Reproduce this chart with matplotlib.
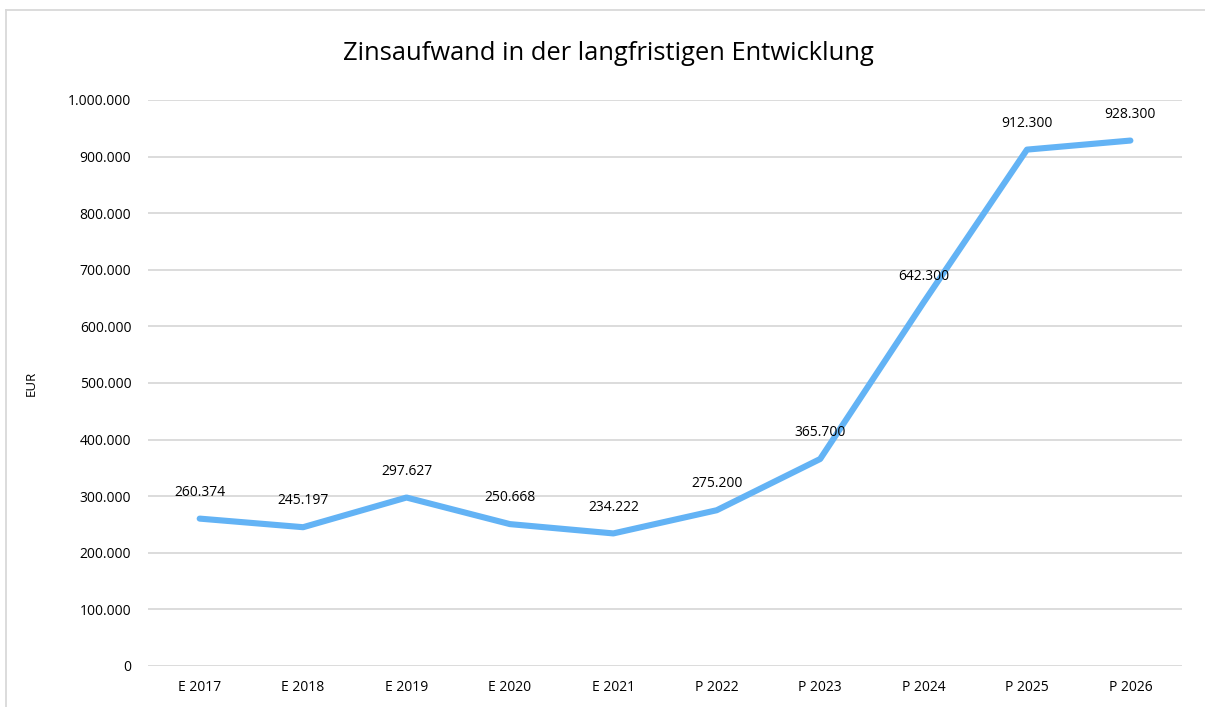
import matplotlib.pyplot as plt
from matplotlib.lines import Line2D
from matplotlib.ticker import FuncFormatter

categories = ['E 2017', 'E 2018', 'E 2019', 'E 2020', 'E 2021',
              'P 2022', 'P 2023', 'P 2024', 'P 2025', 'P 2026']
values = [260374, 245197, 297627, 250668, 234222,
          275200, 365700, 642300, 912300, 928300]

plt.rcParams['font.family'] = ['Open Sans', 'DejaVu Sans']

def de_fmt(v, pos=None):
    return f'{int(round(v)):,}'.replace(',', '.')

fig = plt.figure(figsize=(12.05, 7.07), dpi=100)
ax = fig.add_axes([0.1228, 0.058, 0.8582, 0.8006])

x = list(range(len(categories)))
ax.plot(x, values, color='#63b3f5', lw=4.4, solid_capstyle='round',
        solid_joinstyle='round', zorder=3)

for xi, v in zip(x, values):
    ax.annotate(de_fmt(v), (xi, v), xytext=(0, 19), textcoords='offset points',
                ha='center', va='center', fontsize=10, color='#000000')

ax.set_xlim(-0.5, len(categories) - 0.5)
ax.set_ylim(0, 1000000)
ax.set_yticks(range(0, 1000001, 100000))
ax.yaxis.set_major_formatter(FuncFormatter(de_fmt))
ax.set_xticks(x)
ax.set_xticklabels(categories)
ax.tick_params(length=0, labelsize=10, colors='#000000')
ax.tick_params(axis='y', pad=12)
ax.tick_params(axis='x', pad=10)
ax.grid(axis='y', color='#d9d9d9', lw=1.3)
ax.set_axisbelow(True)
for s in ax.spines.values():
    s.set_visible(False)

ax.set_ylabel('EUR', fontsize=9.5, labelpad=22)
fig.text(0.505, 0.925, 'Zinsaufwand in der langfristigen Entwicklung',
         ha='center', va='center', fontsize=18.4)

# chart border (top and left visible)
fig.add_artist(Line2D([6 / 1205, 1], [1 - 10 / 707, 1 - 10 / 707],
                      color='#d9d9d9', lw=1.3, transform=fig.transFigure))
fig.add_artist(Line2D([6 / 1205, 6 / 1205], [0, 1 - 10 / 707],
                      color='#d9d9d9', lw=1.3, transform=fig.transFigure))

fig.savefig('out.png', dpi=100)
